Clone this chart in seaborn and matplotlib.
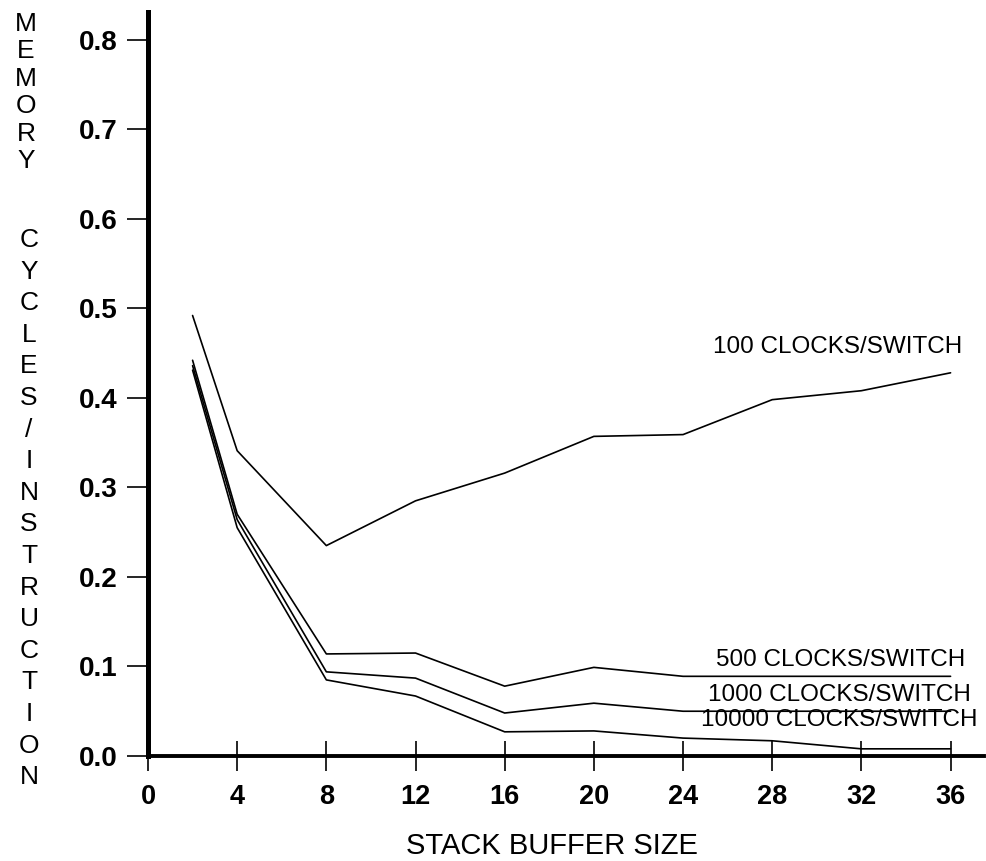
import matplotlib
matplotlib.use("Agg")
import matplotlib.pyplot as plt
import seaborn as sns
import pandas as pd

sns.set_theme(style="white")
plt.rcParams['font.family'] = ['Liberation Sans', 'DejaVu Sans']
plt.rcParams['text.color'] = 'black'
plt.rcParams['xtick.color'] = 'black'
plt.rcParams['ytick.color'] = 'black'
plt.rcParams['axes.labelcolor'] = 'black'

# ---- data ----
buffer_sizes = [2, 4, 8, 12, 16, 20, 24, 28, 32, 36]
clocks_100 = [0.492, 0.341, 0.235, 0.285, 0.316, 0.357, 0.359, 0.398, 0.408, 0.428]
clocks_500 = [0.442, 0.270, 0.114, 0.115, 0.078, 0.099, 0.089, 0.089, 0.089, 0.089]
clocks_1000 = [0.436, 0.264, 0.094, 0.087, 0.048, 0.059, 0.050, 0.050, 0.050, 0.050]
clocks_10000 = [0.431, 0.255, 0.085, 0.067, 0.027, 0.028, 0.020, 0.017, 0.008, 0.008]
series_labels = ["100 CLOCKS/SWITCH", "500 CLOCKS/SWITCH",
                 "1000 CLOCKS/SWITCH", "10000 CLOCKS/SWITCH"]
x_ticks = [0, 4, 8, 12, 16, 20, 24, 28, 32, 36]
y_ticks = [0.0, 0.1, 0.2, 0.3, 0.4, 0.5, 0.6, 0.7, 0.8]
x_label = "STACK BUFFER SIZE"
y_label_words = ["MEMORY", "CYCLES/INSTRUCTION"]

all_series = [clocks_100, clocks_500, clocks_1000, clocks_10000]
df = pd.DataFrame({
    "size": buffer_sizes * len(all_series),
    "value": [v for s in all_series for v in s],
    "series": [lab for lab, s in zip(series_labels, all_series) for _ in s],
})

W, H = 986, 861
fig = plt.figure(figsize=(W / 100, H / 100), dpi=100)
ax = fig.add_axes([148 / W, (H - 756) / H, 836 / W, 744 / H])

sns.lineplot(data=df, x="size", y="value", hue="series",
             palette=["black"] * 4, legend=False, ax=ax, lw=1.2,
             sort=False, estimator=None)

ax.set_xlim(0, 37.5)
ax.set_ylim(0, 0.831)
ax.set_xticks(x_ticks)
ax.set_xticklabels([str(t) for t in x_ticks], fontsize=19.5, fontweight='bold')
ax.set_yticks(y_ticks)
ax.set_yticklabels([f"{t:.1f}" for t in y_ticks], fontsize=20, fontweight='bold')
ax.tick_params(axis='x', which='major', bottom=True, direction='inout',
               length=22, width=1.2, pad=9, color='black', labelcolor='black')
ax.tick_params(axis='y', which='major', left=True, direction='out',
               length=15, width=1.2, pad=7, color='black', labelcolor='black')
ax.set_xlabel("")
ax.set_ylabel("")

for s in ['top', 'right']:
    ax.spines[s].set_visible(False)
ax.spines['left'].set_linewidth(3.6)
ax.spines['bottom'].set_linewidth(2.8)
ax.spines['left'].set_color('black')
ax.spines['bottom'].set_color('black')
ax.spines['left'].set_zorder(3)
ax.set_facecolor('white')

# series labels
label_pos = [(30.95, 0.457), (31.05, 0.107), (31.0, 0.068), (31.0, 0.040)]
for lab, (lx, ly) in zip(series_labels, label_pos):
    ax.text(lx, ly, lab, fontsize=17.5, ha='center', va='center', color='black')

# x label
fig.text(552 / W, 1 - 846 / H, x_label, fontsize=21, ha='center', va='center',
         color='black')

# stacked vertical y label
y_px = 24
for ch in y_label_words[0]:
    fig.text(26 / W, 1 - y_px / H, ch, fontsize=19, ha='center', va='center',
             color='black')
    y_px += 27.4
y_px = 240
for ch in y_label_words[1]:
    fig.text(29 / W, 1 - y_px / H, ch, fontsize=19, ha='center', va='center',
             color='black')
    y_px += 31.6

fig.savefig("out.png", dpi=100, facecolor='white')
